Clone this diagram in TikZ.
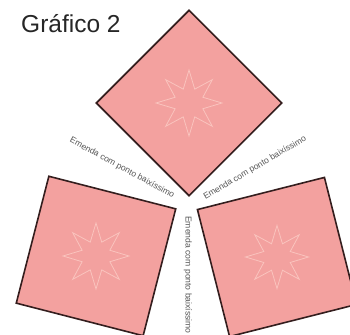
\documentclass[tikz,border=0pt]{standalone}
\usepackage{fontspec}
\setmainfont{Liberation Sans}
\usepackage{xcolor}
\usetikzlibrary{shapes.geometric}

\definecolor{quadro}{RGB}{243,161,159}
\definecolor{borda}{RGB}{52,30,30}
\definecolor{estrela}{RGB}{250,196,190}
\definecolor{legenda}{RGB}{85,85,85}

\tikzset{
  painel/.style={draw=borda,fill=quadro,line width=1.6pt,minimum size=131pt,inner sep=0pt},
  estrelinha/.style={star,star points=8,star point ratio=2.2,minimum size=66pt,inner sep=0pt,draw=estrela,line width=0.8pt},
  emenda/.style={text=legenda,font=\fontsize{8.6}{9}\selectfont,inner sep=0pt}
}

\begin{document}
\begin{tikzpicture}[x=1pt,y=-1pt]
	\useasboundingbox (0,0) rectangle (350,334);
	\clip (0,0) rectangle (350,334);
	
	% titulo
	\node[anchor=base west,text=black!85,font=\fontsize{24.5}{28}\selectfont,inner sep=0pt] (titulo) at (21,33) {Gráfico 2};
	
	% quadro de cima
	\node[painel,rotate=45] (qcima) at (189,103) {};
	\node[estrelinha] (ecima) at (qcima.center) {};
	
	% quadro da esquerda
	\node[painel,rotate=-14.4] (qesq) at (96,256) {};
	\node[estrelinha] (eesq) at (qesq.center) {};
	
	% quadro da direita
	\node[painel,rotate=14.2] (qdir) at (277,257) {};
	\node[estrelinha,minimum size=63pt] (edir) at (qdir.center) {};
	
	% legendas das emendas
	\node[emenda,rotate=-28.6] (lesq) at (122,168) {Emenda com ponto baixíssimo};
	\node[emenda,rotate=30.5] (ldir) at (255,168) {Emenda com ponto baixíssimo};
	\node[emenda,rotate=-90] (lbaixo) at (188,275) {Emenda com ponto baixíssimo};
	
\end{tikzpicture}
\end{document}
